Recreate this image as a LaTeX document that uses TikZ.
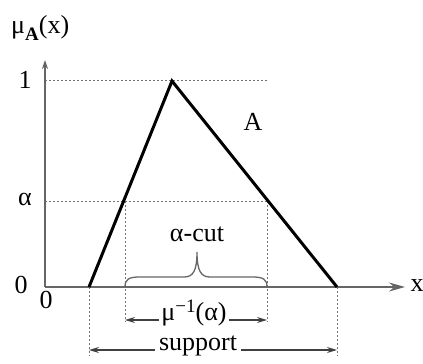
\documentclass[tikz,border=0pt]{standalone}
\usepackage{fontspec}
\setmainfont{Liberation Serif}
\usetikzlibrary{arrows.meta}
\begin{document}
\begin{tikzpicture}[x=1pt,y=-1pt,
  axisline/.style={draw=black!60,line width=1.3pt},
  guide/.style={draw=black!55,line width=1pt,dash pattern=on 2pt off 2pt},
  curve/.style={draw=black,line width=3pt,line join=miter},
  lbl/.style={font=\fontsize{26}{30}\selectfont,inner sep=0pt},
  dimarrow/.style={draw=black!75,line width=1.2pt,-{Stealth[length=10pt,width=6pt]}},
  bracestyle/.style={draw=black!60,line width=1.3pt}]
\useasboundingbox (0,0) rectangle (423,364);
% key points
\coordinate (O) at (45,287);
\coordinate (ytop) at (45,60);
\coordinate (xend) at (405,287);
\coordinate (L) at (89,287);
\coordinate (P) at (172,81);
\coordinate (R) at (337,287);
\coordinate (one) at (45,80);
\coordinate (oneend) at (267,80);
\coordinate (al) at (45,201);
\coordinate (ca) at (125,201);
\coordinate (cb) at (267,201);
\coordinate (cad) at (125,322);
\coordinate (cbd) at (267,322);
\coordinate (Ld) at (89,356);
\coordinate (Rd) at (337,356);
\coordinate (Ls) at (89,350);
\coordinate (Rs) at (337,350);
\coordinate (Lm) at (125,320);
\coordinate (Rm) at (267,320);
% dotted guides
\draw[guide] (one) -- (oneend);
\draw[guide] (al) -- (cb);
\draw[guide] (ca) -- (cad);
\draw[guide] (cb) -- (cbd);
\draw[guide] (L) -- (Ld);
\draw[guide] (R) -- (Rd);
% axes
\draw[axisline,-{Stealth[length=9pt,width=6pt]}] (O) -- (ytop);
\draw[axisline,-{Stealth[length=16pt,width=9pt]}] (O) -- (xend);
% membership function
\draw[curve] (L) -- (P) -- (R);
% brace
\draw[bracestyle] (125,287) .. controls (125,279) and (129,277) .. (140,277)
  -- (184,277) .. controls (193,277) and (197,271) .. (197,252)
  .. controls (197,271) and (201,277) .. (210,277)
  -- (252,277) .. controls (263,277) and (267,279) .. (267,287);
% labels
\node[lbl,anchor=west] (mu) at (11,28) {μ\raisebox{-0.55ex}{\fontsize{19}{21}\selectfont\textbf{A}}(x)};
\node[lbl] (l1) at (25,80) {1};
\node[lbl] (lal) at (25,199) {α};
\node[lbl] (l0a) at (21,285) {0};
\node[lbl] (l0b) at (46,300) {0};
\node[lbl] (lA) at (253,122) {A};
\node[lbl] (lx) at (417,286) {x};
\node[lbl] (lcut) at (197,234) {α-cut};
\node[lbl] (lmu) at (194,313) {μ\raisebox{0.75ex}{\fontsize{19}{21}\selectfont −1}(α)};
\node[lbl] (lsup) at (198,346) {support};
% dimension arrows
\draw[dimarrow] (lmu.west|-Lm) ++(-2,0) -- (Lm);
\draw[dimarrow] (lmu.east|-Rm) ++(2,0) -- (Rm);
\draw[dimarrow] (lsup.west|-Ls) ++(-4,0) -- (Ls);
\draw[dimarrow] (lsup.east|-Rs) ++(4,0) -- (Rs);
\end{tikzpicture}
\end{document}
